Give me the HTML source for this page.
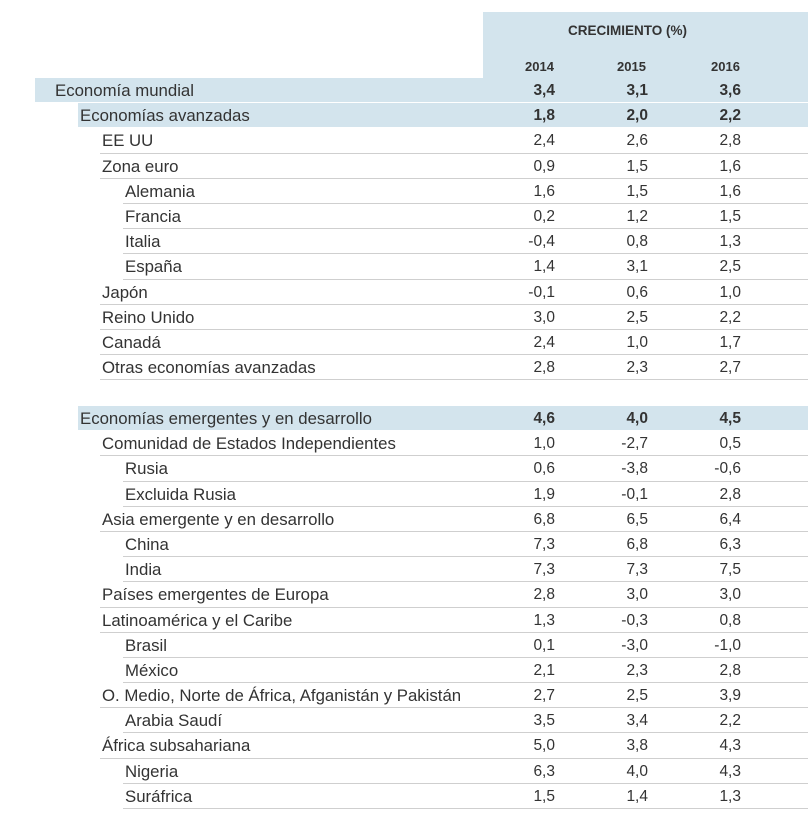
<!DOCTYPE html>
<html><head><meta charset="utf-8"><style>
body{margin:0;width:811px;height:813px;background:#fff;font-family:"Liberation Sans",Arial,sans-serif;color:#333;position:relative;overflow:hidden}
.hd{position:absolute;left:483px;top:12px;width:325px;height:66px;background:#d3e4ed}
.hd div{position:absolute;font-weight:bold;font-size:12.5px;color:#333}
.sec{position:absolute;left:0;width:808px}
.r{position:relative;height:25.2px;box-sizing:border-box;border-bottom:1px solid #cfcfcf;font-size:15.5px;line-height:25px;margin-left:auto}
.r span{position:absolute;left:2px;white-space:nowrap;font-size:16.8px;letter-spacing:0}
.r i{position:absolute;font-style:normal;text-align:right;width:50px}
.r i:nth-of-type(1){right:253px}
.r i:nth-of-type(2){right:160px}
.r i:nth-of-type(3){right:67px}
.m{width:773px;background:#d3e4ed;border-bottom:1px solid #fff}
.m span{left:20px}
.v{width:730px;background:#d3e4ed;border-bottom:1px solid #fff}
.v i,.m i{font-weight:bold}
.a{width:708px}
.b{width:685px}
</style></head><body>
<div class="hd">
<div style="left:85px;top:11px;font-size:13.5px">CRECIMIENTO (%)</div>
<div style="left:42px;top:47px;font-size:13px">2014</div>
<div style="left:134px;top:47px;font-size:13px">2015</div>
<div style="left:228px;top:47px;font-size:13px">2016</div>
</div>
<div class="sec" style="top:78px">
<div class="r m"><span>Economía mundial</span><i>3,4</i><i>3,1</i><i>3,6</i></div>
<div class="r v"><span>Economías avanzadas</span><i>1,8</i><i>2,0</i><i>2,2</i></div>
<div class="r a"><span>EE UU</span><i>2,4</i><i>2,6</i><i>2,8</i></div>
<div class="r a"><span>Zona euro</span><i>0,9</i><i>1,5</i><i>1,6</i></div>
<div class="r b"><span>Alemania</span><i>1,6</i><i>1,5</i><i>1,6</i></div>
<div class="r b"><span>Francia</span><i>0,2</i><i>1,2</i><i>1,5</i></div>
<div class="r b"><span>Italia</span><i>-0,4</i><i>0,8</i><i>1,3</i></div>
<div class="r b"><span>España</span><i>1,4</i><i>3,1</i><i>2,5</i></div>
<div class="r a"><span>Japón</span><i>-0,1</i><i>0,6</i><i>1,0</i></div>
<div class="r a"><span>Reino Unido</span><i>3,0</i><i>2,5</i><i>2,2</i></div>
<div class="r a"><span>Canadá</span><i>2,4</i><i>1,0</i><i>1,7</i></div>
<div class="r a"><span>Otras economías avanzadas</span><i>2,8</i><i>2,3</i><i>2,7</i></div>
</div>
<div class="sec" style="top:406px">
<div class="r v"><span>Economías emergentes y en desarrollo</span><i>4,6</i><i>4,0</i><i>4,5</i></div>
<div class="r a"><span>Comunidad de Estados Independientes</span><i>1,0</i><i>-2,7</i><i>0,5</i></div>
<div class="r b"><span>Rusia</span><i>0,6</i><i>-3,8</i><i>-0,6</i></div>
<div class="r b"><span>Excluida Rusia</span><i>1,9</i><i>-0,1</i><i>2,8</i></div>
<div class="r a"><span>Asia emergente y en desarrollo</span><i>6,8</i><i>6,5</i><i>6,4</i></div>
<div class="r b"><span>China</span><i>7,3</i><i>6,8</i><i>6,3</i></div>
<div class="r b"><span>India</span><i>7,3</i><i>7,3</i><i>7,5</i></div>
<div class="r a"><span>Países emergentes de Europa</span><i>2,8</i><i>3,0</i><i>3,0</i></div>
<div class="r a"><span>Latinoamérica y el Caribe</span><i>1,3</i><i>-0,3</i><i>0,8</i></div>
<div class="r b"><span>Brasil</span><i>0,1</i><i>-3,0</i><i>-1,0</i></div>
<div class="r b"><span>México</span><i>2,1</i><i>2,3</i><i>2,8</i></div>
<div class="r a"><span>O. Medio, Norte de África, Afganistán y Pakistán</span><i>2,7</i><i>2,5</i><i>3,9</i></div>
<div class="r b"><span>Arabia Saudí</span><i>3,5</i><i>3,4</i><i>2,2</i></div>
<div class="r a"><span>África subsahariana</span><i>5,0</i><i>3,8</i><i>4,3</i></div>
<div class="r b"><span>Nigeria</span><i>6,3</i><i>4,0</i><i>4,3</i></div>
<div class="r b"><span>Suráfrica</span><i>1,5</i><i>1,4</i><i>1,3</i></div>
</div>
</body></html>
